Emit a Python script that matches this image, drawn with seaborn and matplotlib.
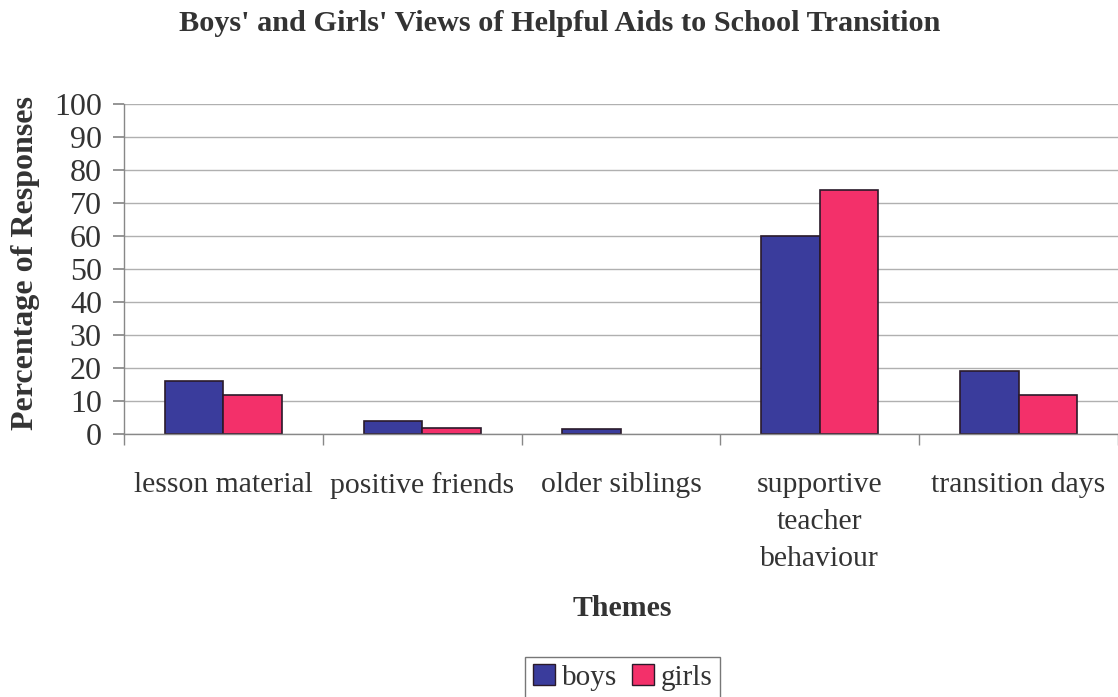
import matplotlib
matplotlib.use("Agg")
import matplotlib.pyplot as plt
import seaborn as sns
import pandas as pd
from matplotlib.patches import Patch

categories = ["lesson material", "positive friends", "older siblings",
              "supportive\nteacher\nbehaviour", "transition days"]
boys = [16, 4, 1.5, 60, 19]
girls = [12, 2, 0, 74, 12]
series = ["boys", "girls"]
yticks = [0, 10, 20, 30, 40, 50, 60, 70, 80, 90, 100]

df = pd.DataFrame({
    "Theme": categories * 2,
    "Value": boys + girls,
    "Series": ["boys"] * len(categories) + ["girls"] * len(categories),
})

sns.set_theme(style="white")
plt.rcParams["font.family"] = ["Liberation Serif", "DejaVu Serif"]

colors = {"boys": "#3a3c9c", "girls": "#f3306a"}
txt = "#333333"

fig = plt.figure(figsize=(11.18, 6.97), dpi=100)
ax = fig.add_axes([0.111, 0.377, 0.889, 0.474])

sns.barplot(data=df, x="Theme", y="Value", hue="Series", palette=colors,
            width=0.59, edgecolor="#2a1a2a", linewidth=1.2, saturation=1,
            legend=False, ax=ax)
for p in ax.patches:
    if p.get_height() == 0:
        p.set_linewidth(0)

ax.set_ylim(0, 100)
ax.set_xlim(-0.5, 4.5)
ax.set_yticks(yticks)
ax.set_yticklabels([str(t) for t in yticks], fontsize=23, color=txt)
ax.yaxis.grid(True, color="#b0b0b0", linewidth=1)
ax.set_axisbelow(True)

ax.set_xticks([i for i in range(len(categories))])
ax.set_xticklabels(categories, fontsize=21.3, color=txt, linespacing=1.55)
ax.tick_params(axis="x", length=0, pad=27)
ax.set_xticks([i - 0.5 for i in range(len(categories) + 1)], minor=True)
ax.tick_params(axis="x", which="minor", length=8, color="#888888", direction="out", bottom=True)
ax.tick_params(axis="y", length=8, color="#888888", direction="out", left=True, pad=8)

for s in ["top", "right"]:
    ax.spines[s].set_visible(False)
for s in ["left", "bottom"]:
    ax.spines[s].set_color("#888888")
    ax.spines[s].set_linewidth(1)

ax.set_ylabel("Percentage of Responses", fontsize=23, fontweight="bold",
              color=txt, va="center")
ax.yaxis.set_label_coords(-0.0996, 0.517)
ax.set_xlabel("Themes", fontsize=21.5, fontweight="bold", color=txt, va="center")
ax.xaxis.set_label_coords(0.501, -0.528)

fig.text(0.5005, 0.966, "Boys' and Girls' Views of Helpful Aids to School Transition",
         ha="center", va="center", fontsize=21.8, fontweight="bold", color=txt)

handles = [Patch(facecolor=colors[s], edgecolor="#2a1a2a", label=s) for s in series]
leg = fig.legend(handles=handles, loc="center", bbox_to_anchor=(0.557, 0.028),
                 ncol=2, fontsize=21, frameon=True, fancybox=False,
                 handlelength=0.75, handleheight=0.75, handletextpad=0.25,
                 columnspacing=0.5, borderpad=0.25)
leg.get_frame().set_edgecolor("#555555")
leg.get_frame().set_linewidth(1)
for t in leg.get_texts():
    t.set_color(txt)

fig.savefig("out.png", dpi=100, facecolor="white")
